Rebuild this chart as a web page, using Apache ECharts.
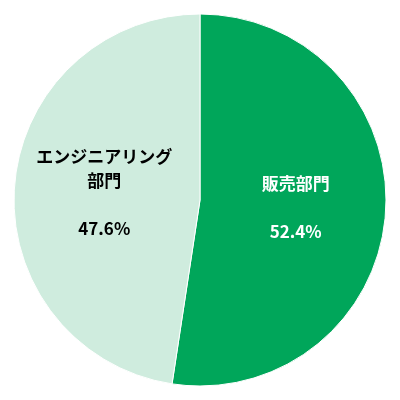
<!DOCTYPE html>
<html>
<head>
<meta charset="utf-8">
<script src="https://cdn.jsdelivr.net/npm/echarts@6/dist/echarts.min.js"></script>
<style>html,body{margin:0;padding:0;}#chart{width:400px;height:400px;}</style>
</head>
<body>
<div id="chart"></div>
<script>
var names = ['販売部門', 'エンジニアリング\n部門'];
var values = [52.4, 47.6];
var colors = ['#00A65A', '#CFECDE'];
var textColors = ['#ffffff', '#000000'];

var myChart = echarts.init(document.getElementById('chart'));
myChart.setOption({
	series: [{
		type: 'pie',
		center: [200, 200],
		radius: [0, 186],
		startAngle: 90,
		clockwise: true,
		silent: true,
		itemStyle: {borderColor: '#ffffff', borderWidth: 1},
		label: {
			position: 'inside',
			fontFamily: 'Noto Sans CJK JP',
			fontWeight: 'bold',
			fontSize: 17,
			lineHeight: 24,
			formatter: function (p) { return p.name + '\n\n' + p.value.toFixed(1) + '%'; }
		},
		data: values.map(function (v, i) {
			return {
				name: names[i], value: v,
				itemStyle: {color: colors[i]},
				label: {color: textColors[i], fontSize: i == 0 ? 17 : 17}
			};
		})
	}]
});
</script>
</body>
</html>
